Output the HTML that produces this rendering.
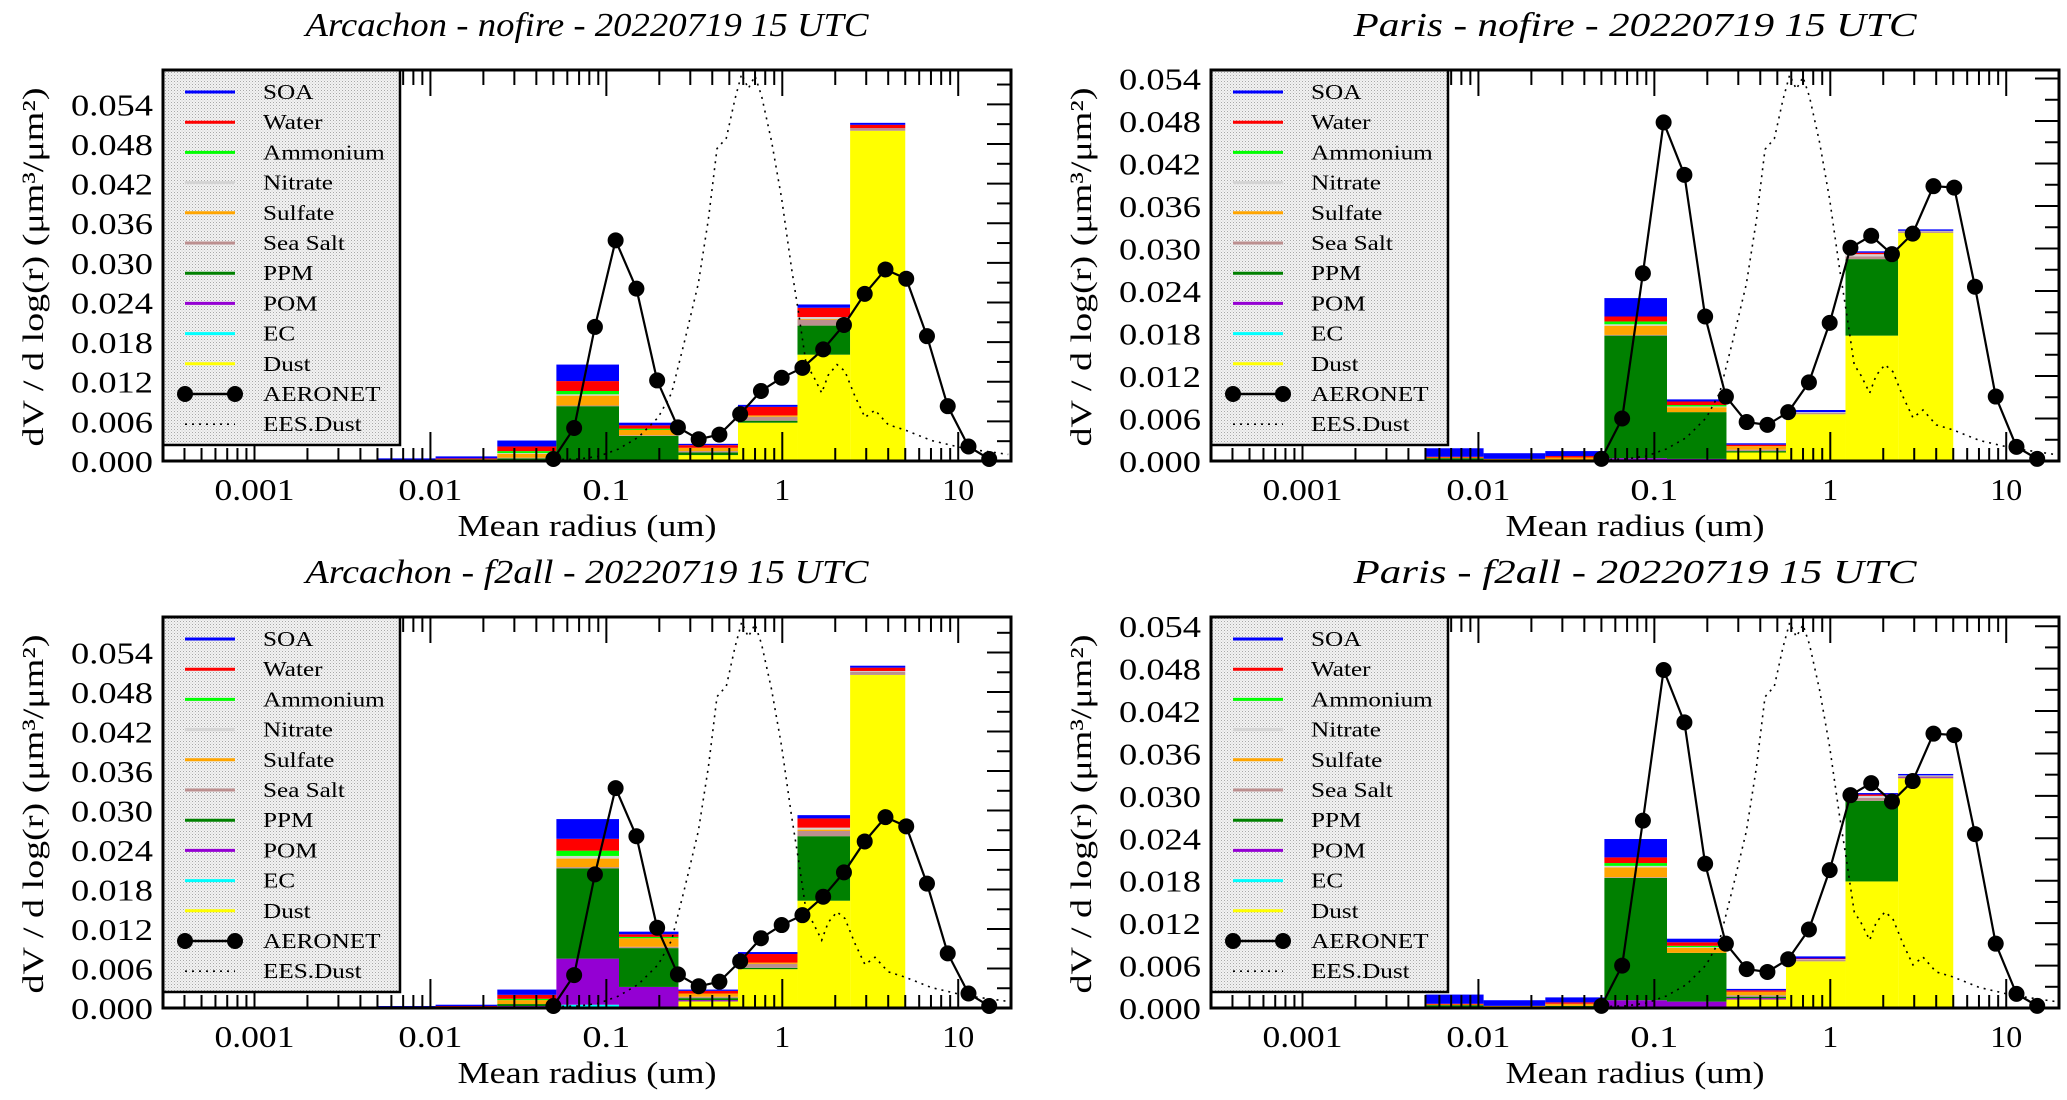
<!DOCTYPE html>
<html><head><meta charset="utf-8"><style>
html,body{margin:0;padding:0;background:#fff;}
svg{display:block;}
text{font-family:"Liberation Serif",serif;fill:#000;}
</style></head><body>
<svg id="fig" width="2067" height="1100" viewBox="0 0 2067 1100" xmlns="http://www.w3.org/2000/svg">
<defs>
<pattern id="stip" width="3" height="3" patternUnits="userSpaceOnUse">
<rect width="3" height="3" fill="#f2f2f2"/><rect x="0" y="0" width="1" height="1" fill="#a8a8a8"/><rect x="1.5" y="1.5" width="1" height="1" fill="#c8c8c8"/>
</pattern>
</defs>
</svg>
<script>
// ---------- data ----------
const species = ["Dust","EC","POM","PPM","Sea Salt","Sulfate","Nitrate","Ammonium","Water","SOA"];
const speciesColors = ["#ffff00","#00ffff","#9400d3","#008000","#bc8f8f","#ffa500","#d3d3d3","#00ff00","#ff0000","#0000ff"];
const binEdges = [0.005,0.0107,0.024,0.052,0.118,0.257,0.56,1.22,2.43,5.0];

const arcNofireStack = [
 [0,0,0,0.0001,0,0.0001,0,0,0,0.0002],
 [0,0,0,0.0002,0,0.0001,0,0,0.0001,0.0003],
 [0,0,0.0001,0.0003,0.0001,0.0006,0.0001,0.0003,0.0007,0.0009],
 [0,0,0.0002,0.0081,0.0001,0.0015,0.0002,0.0005,0.0015,0.0025],
 [0,0,0.0002,0.0036,0.0001,0.0008,0,0.0002,0.0005,0.0004],
 [0.0009,0,0,0.0004,0.0002,0.0005,0,0,0.0004,0.0002],
 [0.0058,0,0,0.0003,0.0006,0.0002,0,0,0.0013,0.0003],
 [0.0161,0,0,0.0044,0.0009,0.0001,0.0003,0,0.0014,0.0005],
 [0.0500,0,0,0,0.0004,0,0,0,0.0005,0.0003]];
const parNofireStack = [
 [0,0,0.0001,0.0003,0,0.0001,0,0,0.0001,0.0012],
 [0,0,0,0.0002,0,0.0001,0,0,0,0.0008],
 [0,0,0.0001,0.0001,0,0.0003,0,0,0.0002,0.0007],
 [0,0,0.0004,0.0173,0.0001,0.0013,0.0002,0.0004,0.0007,0.0026],
 [0,0,0.0003,0.0066,0,0.0007,0.0001,0.0002,0.0005,0.0003],
 [0.0012,0,0,0.0002,0.0002,0.0005,0,0,0.0002,0.0002],
 [0.0066,0,0,0,0.0002,0,0.0001,0,0,0.0003],
 [0.0177,0,0,0.0108,0.0004,0,0.0003,0,0.0002,0.0002],
 [0.0322,0,0,0,0.0002,0,0.0001,0,0,0.0002]];
const arcF2allStack = [
 [0,0,0,0.0001,0,0.0001,0,0,0,0.0001],
 [0,0,0,0.0001,0,0.0001,0,0,0.0001,0.0002],
 [0,0.0001,0.0002,0.0003,0,0.0006,0,0.0002,0.0006,0.0008],
 [0,0.0005,0.0070,0.0137,0.0002,0.0013,0.0004,0.0008,0.0018,0.0030],
 [0,0.0002,0.0030,0.0059,0.0002,0.0013,0,0.0002,0.0004,0.0004],
 [0.0010,0,0.0002,0.0003,0.0002,0.0005,0,0,0.0004,0.0002],
 [0.0059,0,0,0.0002,0.0006,0.0002,0,0,0.0013,0.0003],
 [0.0163,0,0,0.0098,0.0008,0.0002,0.0003,0,0.0014,0.0005],
 [0.0506,0,0,0,0.0005,0,0.0001,0,0.0005,0.0003]];
const parF2allStack = [
 [0,0,0.0001,0.0003,0,0.0001,0,0,0.0001,0.0013],
 [0,0,0,0.0002,0,0.0001,0,0,0,0.0008],
 [0,0,0.0002,0.0001,0,0.0003,0,0,0.0002,0.0007],
 [0,0.0001,0.0010,0.0173,0.0001,0.0014,0.0002,0.0004,0.0008,0.0026],
 [0,0.0001,0.0008,0.0069,0,0.0007,0.0001,0.0002,0.0005,0.0005],
 [0.0012,0,0.0002,0.0002,0.0002,0.0005,0,0,0.0002,0.0002],
 [0.0066,0,0,0,0.0002,0,0.0001,0,0.0001,0.0003],
 [0.0179,0,0,0.0114,0.0004,0,0.0003,0,0.0002,0.0002],
 [0.0325,0,0.0001,0,0.0002,0,0.0001,0,0,0.0002]];

const aeronetR = [0.050,0.0656,0.0861,0.1129,0.1482,0.1944,0.2551,0.3347,0.4392,0.5762,0.7561,0.9921,1.3017,1.7080,2.2412,2.9408,3.8588,5.0632,6.6436,8.7173,11.439,15.0];
const aeronetArcachon = [0.0003,0.0050,0.0203,0.0334,0.0261,0.0122,0.0051,0.0033,0.0040,0.0071,0.0106,0.0126,0.0141,0.0169,0.0206,0.0253,0.0290,0.0276,0.0189,0.0083,0.0022,0.0003];
const aeronetParis = [0.0003,0.0060,0.0265,0.0478,0.0404,0.0204,0.0091,0.0055,0.0051,0.0069,0.0111,0.0195,0.0301,0.0318,0.0292,0.0321,0.0388,0.0386,0.0246,0.0091,0.0020,0.0003];

const eesLogR = [-1.291,-1.159,-1.045,-0.932,-0.818,-0.705,-0.629,-0.553,-0.477,-0.420,-0.371,-0.318,-0.269,-0.231,-0.193,-0.155,-0.118,-0.061,-0.004,0.053,0.091,0.136,0.174,0.224,0.261,0.311,0.356,0.413,0.470,0.527,0.602,0.697,0.848,1.038,1.284];
const eesArcachon = [0.0002,0.0003,0.0007,0.0018,0.0036,0.0066,0.0103,0.0184,0.0269,0.0366,0.0473,0.0489,0.0548,0.0586,0.0564,0.0583,0.0553,0.0484,0.0398,0.0291,0.0227,0.0146,0.0130,0.0103,0.0130,0.0146,0.0136,0.0098,0.0066,0.0077,0.0055,0.0047,0.0031,0.0019,0.0010];
const eesParis = [0.0002,0.0003,0.0007,0.0017,0.0033,0.0061,0.0096,0.0171,0.0250,0.0340,0.0440,0.0455,0.0510,0.0545,0.0525,0.0542,0.0514,0.0450,0.0370,0.0271,0.0211,0.0136,0.0121,0.0096,0.0121,0.0136,0.0126,0.0091,0.0061,0.0072,0.0051,0.0044,0.0029,0.0018,0.0009];

const yTickLabels = ["0.000","0.006","0.012","0.018","0.024","0.030","0.036","0.042","0.048","0.054"];
const xTickLabels = ["0.001","0.01","0.1","1","10"];
const legendLabels = ["SOA","Water","Ammonium","Nitrate","Sulfate","Sea Salt","PPM","POM","EC","Dust","AERONET","EES.Dust"];

// ---------- layout ----------
const NS="http://www.w3.org/2000/svg";
const svg=document.getElementById('fig');
function mk(tag,attrs,parent){const e=document.createElementNS(NS,tag);for(const k in attrs)e.setAttribute(k,attrs[k]);(parent||svg).appendChild(e);return e;}

const panels=[
 {key:"arc-nofire",title:"Arcachon - nofire - 20220719 15 UTC",x0:163,top:70,ymax:0.0592,stack:arcNofireStack,aer:aeronetArcachon,ees:eesArcachon},
 {key:"paris-nofire",title:"Paris - nofire - 20220719 15 UTC",x0:1211,top:70,ymax:0.0552,stack:parNofireStack,aer:aeronetParis,ees:eesParis},
 {key:"arc-f2all",title:"Arcachon - f2all - 20220719 15 UTC",x0:163,top:617,ymax:0.0594,stack:arcF2allStack,aer:aeronetArcachon,ees:eesArcachon},
 {key:"paris-f2all",title:"Paris - f2all - 20220719 15 UTC",x0:1211,top:617,ymax:0.0553,stack:parF2allStack,aer:aeronetParis,ees:eesParis}
];
const W=848,H=391,LMIN=-3.52,LMAX=1.30;

panels.forEach(p=>{
 const g=mk('g',{});
 
 
 const xs=r=>p.x0+(Math.log10(r)-LMIN)/(LMAX-LMIN)*W;
 const xl=l=>p.x0+(l-LMIN)/(LMAX-LMIN)*W;
 const ys=v=>p.top+H-v/p.ymax*H;
 const bot=p.top+H, right=p.x0+W;
 // clip
 const cid='clip-'+p.key;
 const cp=mk('clipPath',{id:cid},g);mk('rect',{x:p.x0,y:p.top,width:W,height:H},cp);
 const plot=mk('g',{'clip-path':'url(#'+cid+')'},g);
 // title
 const t=mk('text',{x:p.x0+424,y:p.top-34,'text-anchor':'middle','font-size':34,'font-style':'italic',textLength:563,lengthAdjust:'spacingAndGlyphs'},g);
 t.textContent=p.title;
 
 
 // bars
 p.stack.forEach((vals,i)=>{
  let cum=0;
  const xa=xs(binEdges[i]),xb=xs(binEdges[i+1]);
  vals.forEach((v,s)=>{
   if(v<=0)return;
   const r=mk('rect',{x:xa,y:ys(cum+v),width:xb-xa,height:ys(cum)-ys(cum+v),fill:speciesColors[s]},plot);
   
   
   cum+=v;
  });
 });
 // EES dust
 const ep=mk('polyline',{points:eesLogR.map((l,i)=>xl(l)+','+ys(p.ees[i])).join(' '),fill:'none',stroke:'#000','stroke-width':1.6,'stroke-dasharray':'2,5'},plot);
 
 
 // AERONET
 const ap=mk('polyline',{points:aeronetR.map((r,i)=>xs(r)+','+ys(p.aer[i])).join(' '),fill:'none',stroke:'#000','stroke-width':2.2},g);
 
 
 aeronetR.forEach((r,i)=>{
  const c=mk('circle',{cx:xs(r),cy:ys(p.aer[i]),r:8,fill:'#000'},g);
  
  
 });
 // ticks
 const tk=mk('g',{stroke:'#000','stroke-width':2},g);
 
 
 for(let d=-4;d<=1;d++)for(let k=1;k<=9;k++){
  const l=d+Math.log10(k); if(l<LMIN||l>LMAX)continue;
  const x=xl(l),maj=k===1;
  mk('line',{x1:x,y1:p.top,x2:x,y2:p.top+(maj?26:15)},tk);
  mk('line',{x1:x,y1:bot,x2:x,y2:bot-(maj?29:13)},tk);
 }
 for(let j=0;j*0.003<=p.ymax;j++){
  const y=ys(j*0.003),maj=j%2===0;
  mk('line',{x1:right,y1:y,x2:right-(maj?24:14),y2:y},tk);
  mk('line',{x1:p.x0,y1:y,x2:p.x0+(maj?24:14),y2:y},tk);
 }
 // tick labels
 yTickLabels.forEach((s,j)=>{
  const e=mk('text',{x:p.x0-10,y:ys(j*0.006)+11,'text-anchor':'end','font-size':31,textLength:82,lengthAdjust:'spacingAndGlyphs'},g);
  e.textContent=s;
  
  
 });
 xTickLabels.forEach((s,j)=>{
  const e=mk('text',{x:xl(j-3),y:bot+39,'text-anchor':'middle','font-size':31,textLength:s.length*16,lengthAdjust:'spacingAndGlyphs'},g);
  e.textContent=s;
  
  
 });
 const xt=mk('text',{x:p.x0+424,y:bot+75,'text-anchor':'middle','font-size':31,textLength:259,lengthAdjust:'spacingAndGlyphs'},g);
 xt.textContent='Mean radius (um)';
 
 
 const yt=mk('text',{x:0,y:0,'text-anchor':'middle','font-size':30,transform:'translate('+(p.x0-120)+','+(p.top+197)+') rotate(-90)',textLength:359,lengthAdjust:'spacingAndGlyphs'},g);
 yt.innerHTML='dV / d log(r) (μm³/μm²)';
 
 
 // legend
 const lg=mk('g',{},g);
 
 
 mk('rect',{x:p.x0,y:p.top,width:237,height:375,fill:'url(#stip)',stroke:'#000','stroke-width':2.5},lg);
 legendLabels.forEach((s,i)=>{
  const y=p.top+22+i*30.2;
  const e=mk('g',{},lg);
  
  
  if(i<10){
   mk('line',{x1:p.x0+22,y1:y,x2:p.x0+72,y2:y,stroke:speciesColors[9-i],'stroke-width':3},e);
  }else if(i===10){
   mk('line',{x1:p.x0+22,y1:y,x2:p.x0+72,y2:y,stroke:'#000','stroke-width':2.5},e);
   mk('circle',{cx:p.x0+22,cy:y,r:8,fill:'#000'},e);
   mk('circle',{cx:p.x0+72,cy:y,r:8,fill:'#000'},e);
  }else{
   mk('line',{x1:p.x0+22,y1:y,x2:p.x0+72,y2:y,stroke:'#000','stroke-width':1.6,'stroke-dasharray':'2,5'},e);
  }
  const tx=mk('text',{x:0,y:0,'font-size':21,transform:'translate('+(p.x0+100)+','+(y+7)+') scale(1.2,1)'},e);
  tx.textContent=s;
 });
 // frame
 const fr=mk('rect',{x:p.x0,y:p.top,width:W,height:H,fill:'none',stroke:'#000','stroke-width':3},g);
 
 
});
</script>
</body></html>
